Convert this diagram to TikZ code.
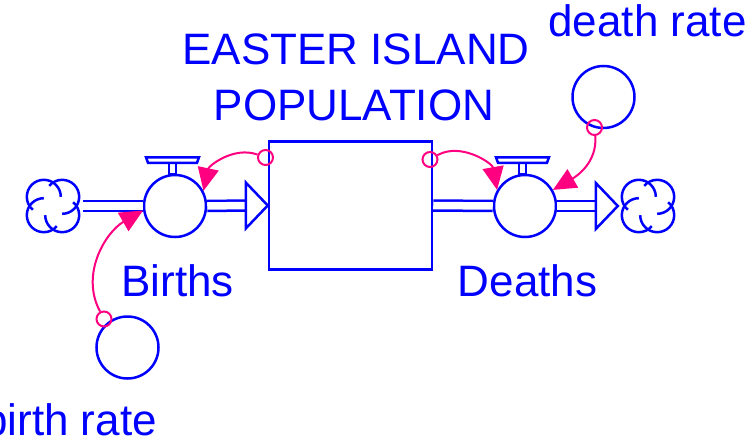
\documentclass[tikz,border=0pt]{standalone}
\usepackage{fontspec}
\setmainfont{Liberation Sans}
\usetikzlibrary{arrows.meta}
\definecolor{flowblue}{RGB}{0,0,255}
\definecolor{linkpink}{RGB}{255,0,128}

\begin{document}
\begin{tikzpicture}[x=1pt,y=1pt,
  flow/.style={draw=flowblue, line width=2.5pt},
  pipe/.style={draw=flowblue, line width=2.5pt, double=white, double distance=7.5pt},
  valve/.style={flow, circle, fill=white, minimum size=62pt, inner sep=0pt},
  auxvar/.style={flow, circle, minimum size=62pt, inner sep=0pt},
  stockbox/.style={flow, rectangle, minimum width=163pt, minimum height=128pt, inner sep=0pt},
  cloudspot/.style={circle, minimum size=60pt, inner sep=0pt},
  tap/.style={draw=linkpink, line width=2pt, circle, minimum size=15pt, inner sep=0pt},
  link/.style={draw=linkpink, line width=2pt, -{Triangle[length=23pt,width=21pt]}},
  txt/.style={text=flowblue, font=\fontsize{44}{53}\selectfont, inner sep=0pt, anchor=base}]
  \useasboundingbox (0,0) rectangle (755,440);

  % stock, valves, clouds and auxiliaries
  \node[stockbox] (stock) at (350.5,234.5) {};
  \node[valve] (births) at (175,234) {};
  \node[valve] (deaths) at (525,234) {};
  \node[cloudspot] (source) at (53,234) {};
  \node[cloudspot] (sink) at (648,234) {};
  \node[auxvar] (birthrate) at (127.5,92.5) {};
  \node[auxvar] (deathrate) at (603.5,343) {};

  % labels
  \node[txt] (stocktop) at (356,375) {EASTER ISLAND};
  \node[txt] (stockbottom) at (354,319) {POPULATION};
  \node[txt] (birthslabel) at (177.5,144) {Births};
  \node[txt] (deathslabel) at (527.5,144) {Deaths};
  \node[txt] (deathratelabel) at (647.5,403) {death rate};
  \node[txt] (birthratelabel) at (70,5) {birth rate};

  % pipes
  \draw[pipe] (source.east) -- (births.west);
  \draw[pipe] (births.east) -- ([xshift=-22pt]stock.west);
  \draw[flow, fill=white] (stock.west) -- ++(-22,23) -- ++(0,-46) -- cycle;
  \draw[pipe] (stock.east) -- (deaths.west);
  \draw[pipe] (deaths.east) -- ([xshift=-22pt]sink.west);
  \draw[flow, fill=white] (sink.west) -- ++(-22,23) -- ++(0,-46) -- cycle;

  % valve handles
  \foreach \v in {births,deaths} {
    \draw[flow, fill=white] ([xshift=-6pt]\v.north) rectangle ++(7,11);
    \draw[flow, fill=white] ([shift={(-27,11)}]\v.north) -- ++(49,0) -- ++(2,5.5) -- ++(-53,0) -- cycle;
  }

  % clouds
  \foreach \c in {source,sink}
    \foreach \a in {45,135,225,315}
      \draw[flow] ([shift={(\a:13)}]\c.center) ++(\a-135:17) arc[start angle=\a-135, delta angle=230, radius=17];

  % connectors
  \node[tap] (birthstap) at (265.5,282.5) {};
  \node[tap] (deathstap) at (430,280.5) {};
  \node[tap] (drtap) at (594.5,312.5) {};
  \node[tap] (brtap) at (104,121) {};
  \draw[link] (birthstap) to[out=160,in=78] (births.28);
  \draw[link] (deathstap) to[out=30,in=100] (deaths.150);
  \draw[link] (drtap) to[out=-85,in=30] (deaths.30);
  \draw[link] (brtap) to[out=118,in=210] (births.188);
\end{tikzpicture}
\end{document}
